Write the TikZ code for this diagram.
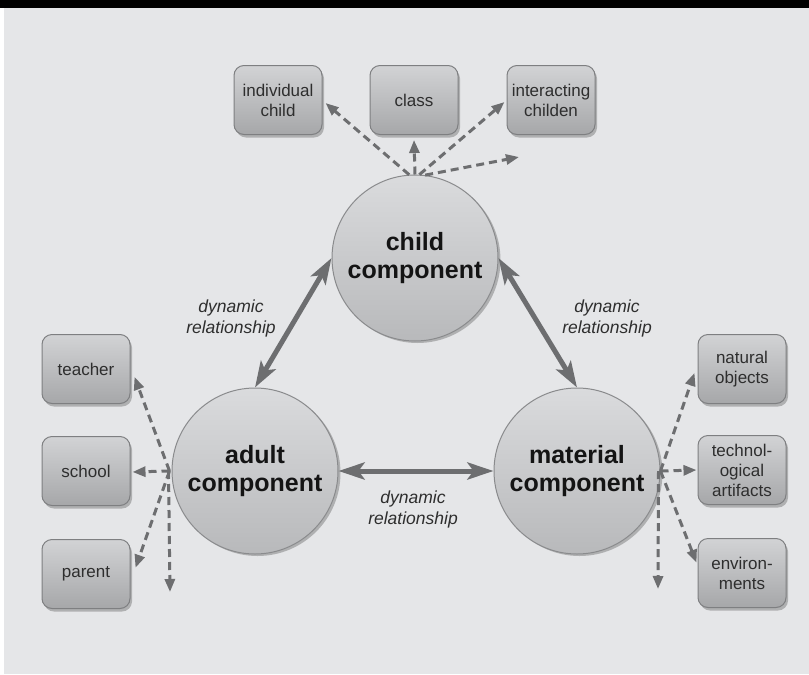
\documentclass[tikz,border=0pt]{standalone}
\usepackage{fontspec}
\setmainfont{Liberation Sans}
\usetikzlibrary{arrows.meta,shadows,calc}
\definecolor{bggray}{HTML}{E5E6E8}
\definecolor{arrgray}{HTML}{6D6E70}
\definecolor{circtop}{HTML}{DADBDD}
\definecolor{circbot}{HTML}{B8B9BB}
\definecolor{circborder}{HTML}{8A8B8D}
\definecolor{boxtop}{HTML}{D2D3D5}
\definecolor{boxbot}{HTML}{A6A7A9}
\definecolor{boxborder}{HTML}{7E7F81}
\definecolor{textgray}{HTML}{2E2E2E}
\begin{document}
\begin{tikzpicture}[x=1pt,y=-1pt,
  comp/.style={circle, minimum size=166pt, inner sep=0pt, draw=circborder, line width=1pt,
    top color=circtop, bottom color=circbot, align=center, text=black!92,
    font=\fontsize{25}{28}\selectfont\bfseries,
    drop shadow={shadow xshift=2.5pt, shadow yshift=-2pt, opacity=0.35, fill=black!70}},
  cbox/.style={rounded corners=10pt, minimum width=88pt, minimum height=69pt, inner sep=2pt,
    draw=boxborder, line width=1pt, top color=boxtop, bottom color=boxbot,
    align=center, text=textgray, font=\fontsize{17}{20}\selectfont,
    drop shadow={shadow xshift=2pt, shadow yshift=-3pt, opacity=0.35, fill=black!70}},
  dyn/.style={draw=arrgray, line width=5pt,
    {Stealth[length=26pt,width=17pt,inset=6pt]}-{Stealth[length=26pt,width=17pt,inset=6pt]}},
  dsh/.style={draw=arrgray, line width=3pt, dash pattern=on 8pt off 5pt,
    -{Triangle[length=13pt,width=10pt]}},
  lbl/.style={align=center, text=textgray, font=\fontsize{17.5}{21}\selectfont\itshape}
]
\useasboundingbox (0,0) rectangle (809,675);
\fill[white] (0,0) rectangle (809,675);
\fill[bggray] (4,8) rectangle (809,674);
\fill[black] (0,0) rectangle (809,8);

% circles
\node[comp] (child) at (415,258) {child\\component};
\node[comp] (adult) at (255,471) {adult\\component};
\node[comp] (mat) at (577,471) {material\\component};

% boxes
\node[cbox] (ind) at (278,100) {individual\\child};
\node[cbox] (cls) at (414,100) {class};
\node[cbox] (inter) at (551,100) {interacting\\childen};
\node[cbox] (teach) at (86,369) {teacher};
\node[cbox] (school) at (86,471) {school};
\node[cbox] (parent) at (86,574) {parent};
\node[cbox] (nat) at (742,369) {natural\\objects};
\node[cbox] (tech) at (742,470) {technol-\\ogical\\artifacts};
\node[cbox] (env) at (742,573) {environ-\\ments};

% free ends
\coordinate (topfree) at (519,157);
\coordinate (leftfree) at (170,592);
\coordinate (rightfree) at (658,589);

% dynamic relationships
\draw[dyn] (child.west) -- (adult.north);
\draw[dyn] (child.east) -- (mat.north);
\draw[dyn] (adult.east) -- (mat.west);

\node[lbl] (l1) at (231,318) {dynamic\\relationship};
\node[lbl] (l2) at (607,318) {dynamic\\relationship};
\node[lbl] (l3) at (413,509) {dynamic\\relationship};

% dashed arrows top
\draw[dsh] (child.94) -- ($(ind.east)+(3,3)$);
\draw[dsh] (child.90) -- ($(cls.south)+(0,5)$);
\draw[dsh] (child.87) -- ($(inter.west)+(-2,2)$);
\draw[dsh] (child.83) -- (topfree);

% dashed arrows left
\draw[dsh] ($(adult.west)+(-2,0)$) -- ($(teach.-10)+(4,0)$);
\draw[dsh] ($(adult.west)+(-2,0)$) -- ($(school.east)+(2,1)$);
\draw[dsh] ($(adult.west)+(-2,0)$) -- ($(parent.8)+(5,0)$);
\draw[dsh] ($(adult.west)+(-3,0)$) -- (leftfree);

% dashed arrows right
\draw[dsh] ($(mat.east)+(0,0)$) -- ($(nat.-175)+(-3,0)$);
\draw[dsh] ($(mat.east)+(0,0)$) -- ($(tech.west)+(-1,0)$);
\draw[dsh] ($(mat.east)+(0,0)$) -- ($(env.167)+(-1,0)$);
\draw[dsh] ($(mat.east)+(-2,0)$) -- (rightfree);
\end{tikzpicture}
\end{document}
